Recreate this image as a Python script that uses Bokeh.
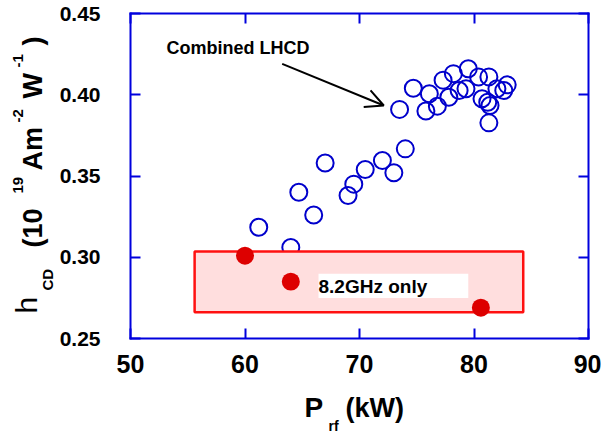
import math
from bokeh.plotting import figure
from bokeh.models import (LinearAxis, FixedTicker, Label, Arrow, OpenHead,
                          BoxAnnotation, ColumnDataSource, Range1d)
from bokeh.embed import file_html
from bokeh.resources import INLINE

# ---- data ----
x_ticks = [50, 60, 70, 80, 90]
x_tick_labels = ["50", "60", "70", "80", "90"]
y_ticks = [0.25, 0.30, 0.35, 0.40, 0.45]
y_tick_labels = ["0.25", "0.30", "0.35", "0.40", "0.45"]

lhcd_p = [61.2, 64.0, 64.7, 66.0, 67.0, 69.0, 69.5, 70.5, 72.0, 73.0, 74.0,
          73.5, 74.7, 75.8, 76.1, 76.8, 77.3, 77.8, 78.2, 78.7, 79.3, 79.5,
          80.4, 81.3, 80.7, 81.2, 81.4, 81.3, 82.0, 82.6, 82.9]
lhcd_h = [0.3185, 0.306, 0.340, 0.326, 0.358, 0.338, 0.345, 0.354, 0.3595,
          0.352, 0.3667, 0.391, 0.404, 0.390, 0.4006, 0.393, 0.409, 0.3985,
          0.413, 0.4026, 0.4037, 0.416, 0.411, 0.411, 0.3975, 0.3954, 0.3934,
          0.3827, 0.4037, 0.4026, 0.4061]

only82_p = [60.0, 64.0, 80.6]
only82_h = [0.301, 0.285, 0.269]

# axis limits of the drawn box
X0, X1 = 50, 90
Y0, Y1 = 0.25, 0.45
# annotation geometry (data units)
band_left, band_right, band_bottom, band_top = 55.6, 84.3, 0.2662, 0.3035

BLUE = "#0000dd"
FONT = "Liberation Sans"

W, H = 601, 435
BOX_L, BOX_R, BOX_T, BOX_B = 130, 588, 13, 338   # pixel box of the axes
sx = (BOX_R - BOX_L) / (X1 - X0)
sy = (BOX_B - BOX_T) / (Y1 - Y0)
x_range = Range1d(X0 - BOX_L / sx, X1 + (W - BOX_R) / sx)
y_range = Range1d(Y0 - (H - BOX_B) / sy, Y1 + BOX_T / sy)

p = figure(width=W, height=H, x_range=x_range, y_range=y_range,
           output_backend="svg", toolbar_location=None,
           x_axis_location=None, y_axis_location=None,
           min_border=0, min_border_left=0, min_border_right=0,
           min_border_top=0, min_border_bottom=0)
p.xgrid.visible = False
p.ygrid.visible = False
p.outline_line_color = None
p.background_fill_color = "white"
p.border_fill_color = "white"


def make_axis(ticks, labels, font_size, standoff, loc, bounds, show_labels=True):
    ax = LinearAxis(fixed_location=loc, bounds=bounds)
    ax.ticker = FixedTicker(ticks=ticks)
    ax.major_label_overrides = {t: l for t, l in zip(ticks, labels)}
    ax.major_tick_in = 10
    ax.major_tick_out = 0
    ax.minor_tick_line_color = None
    ax.axis_line_color = BLUE
    ax.axis_line_width = 2
    ax.axis_line_cap = "square"
    ax.major_tick_line_color = BLUE
    ax.major_tick_line_width = 2
    ax.major_label_text_font = FONT
    ax.major_label_text_font_style = "bold"
    ax.major_label_text_font_size = font_size
    ax.major_label_text_color = "black" if show_labels else None
    ax.major_label_standoff = standoff
    return ax


p.add_layout(make_axis(x_ticks, x_tick_labels, "25px", 16, Y0, (X0, X1)), "below")
p.add_layout(make_axis(y_ticks, y_tick_labels, "21px", 30, X0, (Y0, Y1)), "left")
p.add_layout(make_axis(x_ticks, x_tick_labels, "10px", 0, Y1, (X0, X1), False), "above")
p.add_layout(make_axis(y_ticks, y_tick_labels, "10px", 0, X1, (Y0, Y1), False), "right")

# open circles (combined LHCD)
src1 = ColumnDataSource(dict(x=lhcd_p, y=lhcd_h))
p.scatter("x", "y", source=src1, marker="circle", size=17, fill_color=None,
          line_color="#0000cc", line_width=2)

# 8.2 GHz only band
p.quad(left=[band_left], right=[band_right], bottom=[band_bottom], top=[band_top],
       fill_color="#ffdede", line_color="#ff1010", line_width=2.5)

src2 = ColumnDataSource(dict(x=only82_p, y=only82_h))
p.scatter("x", "y", source=src2, marker="circle", size=18, fill_color="#dd0000",
          line_color=None)

SHIFT = 0.36  # baseline correction, in em

p.add_layout(BoxAnnotation(left=66.42, right=79.5, bottom=0.275, top=0.2898,
                           fill_color="white", fill_alpha=1.0, line_color=None))
p.add_layout(Label(x=66.42, y=0.2777, y_offset=SHIFT * 19, text="8.2GHz only",
                   text_font=FONT, text_font_style="bold", text_font_size="19px",
                   text_color="black", text_baseline="alphabetic"))

p.add_layout(Label(x=53.14, y=0.4246, y_offset=SHIFT * 18, text="Combined LHCD",
                   text_font=FONT, text_font_style="bold", text_font_size="18px",
                   text_color="black", text_baseline="alphabetic"))
p.add_layout(Arrow(end=OpenHead(size=18, line_width=2, line_color="black"),
                   x_start=63.25, y_start=0.419, x_end=72.12, y_end=0.3934,
                   line_width=2, line_color="black"))


def lab(text, xo, yo, size, bold=True, rotated=False):
    # positioned relative to the lower-left corner of the axes box
    if rotated:
        xo -= SHIFT * size
    else:
        yo += SHIFT * size
    p.add_layout(Label(x=X0, y=Y0, x_offset=xo, y_offset=yo, text=text,
                       text_font=FONT,
                       text_font_style="bold" if bold else "normal",
                       text_font_size=f"{size}px", text_color="black",
                       text_align="left", text_baseline="alphabetic",
                       angle=math.pi / 2 if rotated else 0.0))

# x axis title: P_rf (kW)
lab("P", 174, -79, 28)
lab("rf", 198, -93, 14)
lab("(kW)", 215, -79, 27)

# y axis title: h_CD (10^19 Am^-2 W^-1)
lab("h", -93, 25, 30, bold=False, rotated=True)
lab("CD", -78, 48, 15, rotated=True)
lab("(10", -88, 91, 27, rotated=True)
lab("19", -107, 145, 15, rotated=True)
lab("Am", -88, 168, 27, rotated=True)
lab("-2", -107, 216, 15, rotated=True)
lab("W", -88, 240, 27, rotated=True)
lab("-1", -107, 271, 15, rotated=True)
lab(")", -88, 293, 27, rotated=True)

open("out.html", "w").write(file_html(p, INLINE))
